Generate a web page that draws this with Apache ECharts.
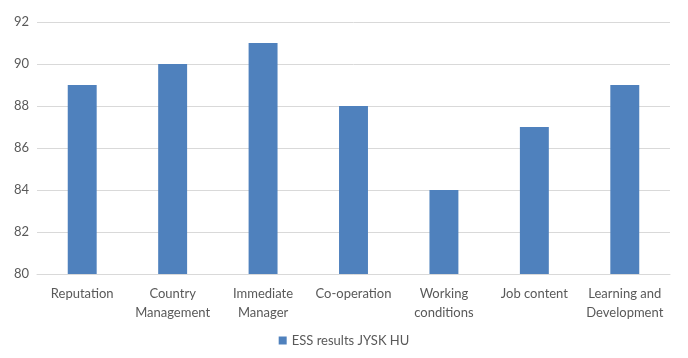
<!DOCTYPE html>
<html><head><meta charset="utf-8">
<script src="https://cdn.jsdelivr.net/npm/echarts@6/dist/echarts.min.js"></script>
<style>html,body{margin:0;padding:0;background:#fff}#c{width:688px;height:358px}</style>
</head><body><div id="c"></div>
<script>
const categories = ["Reputation", "Country\nManagement", "Immediate\nManager", "Co-operation", "Working\nconditions", "Job content", "Learning and\nDevelopment"];
const values = [89, 90, 91, 88, 84, 87, 89];
const seriesName = "ESS results JYSK HU";
const yMin = 80, yMax = 92, yStep = 2;

const font = "Lato, 'Open Sans', sans-serif";
const chart = echarts.init(document.getElementById('c'));
chart.setOption({
  animation: false,
  textStyle: { fontFamily: font },
  grid: { left: 37, right: 18, top: 22, bottom: 84 },
  legend: {
    bottom: 6, left: 'center',
    icon: 'rect', itemWidth: 8, itemHeight: 8, itemGap: 4,
    textStyle: { color: '#595959', fontSize: 13, fontFamily: font },
    data: [seriesName]
  },
  xAxis: {
    type: 'category', data: categories,
    axisLine: { show: true, lineStyle: { color: '#D9D9D9' } },
    axisTick: { show: false },
    axisLabel: { color: '#595959', fontSize: 13, lineHeight: 19, margin: 10, interval: 0, fontFamily: font }
  },
  yAxis: {
    type: 'value', min: yMin, max: yMax, interval: yStep,
    axisLine: { show: false }, axisTick: { show: false },
    splitLine: { lineStyle: { color: '#D9D9D9' } },
    axisLabel: { color: '#595959', fontSize: 13, margin: 8, fontFamily: font }
  },
  series: [{
    name: seriesName, type: 'bar', data: values,
    barWidth: '32%', itemStyle: { color: '#4F81BD' }
  }]
});
</script></body></html>
